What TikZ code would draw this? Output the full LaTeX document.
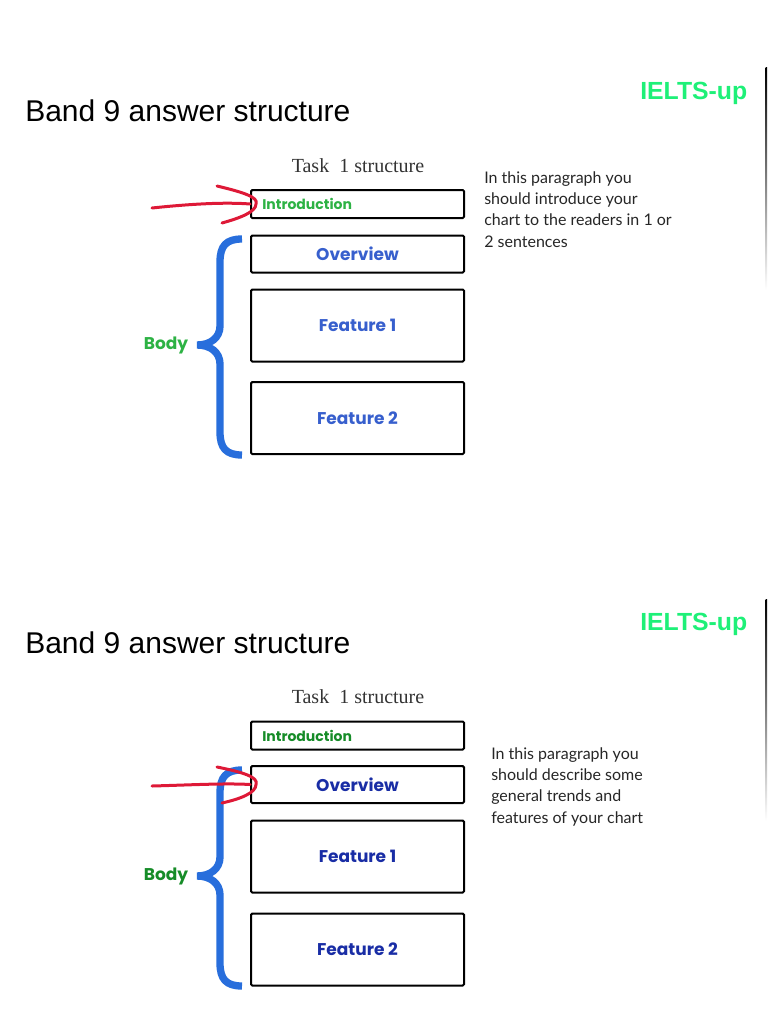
\documentclass[tikz,border=0pt]{standalone}
\usepackage{fontspec}
\setmainfont{Liberation Sans}
\newfontfamily\geofont{Poppins}
\newfontfamily\taskfont{Liberation Serif}
\newfontfamily\notefont{Lato}
\definecolor{brandgreen}{RGB}{30,240,120}
\definecolor{greenA}{RGB}{45,178,68}
\definecolor{greenB}{RGB}{22,140,40}
\definecolor{blueA}{RGB}{55,95,205}
\definecolor{blueB}{RGB}{25,45,165}
\definecolor{bracecol}{RGB}{40,110,220}
\definecolor{pencol}{RGB}{222,25,55}
\tikzset{
  box/.style={draw=black, line width=1.5pt, rounded corners=1pt, minimum width=159.75pt, inner sep=0pt},
  boxtext/.style={font={\geofont\bfseries\fontsize{12.75}{14}\selectfont}},
  introtext/.style={font={\geofont\bfseries\fontsize{10.5}{12}\selectfont}, inner sep=0pt},
  note/.style={font={\notefont\fontsize{12}{16}\selectfont}, align=left, inner sep=0pt, text=black!85},
  bracepen/.style={draw=bracecol, line width=5.5pt},
  redpen/.style={draw=pencol, line width=2.25pt, line cap=round, line join=round}
}
\begin{document}
\begin{tikzpicture}[x=0.75pt, y=-0.75pt]
  \useasboundingbox (0,0) rectangle (768,1024);

  % upper slide
  \node[anchor=base west, inner sep=0pt, font=\fontsize{22.5}{27}\selectfont] (title1) at (25,122) {Band 9 answer structure};
  \node[anchor=base west, inner sep=0pt, text=brandgreen, font=\bfseries\fontsize{18.6}{22}\selectfont] (brand1) at (640,99) {IELTS-up};
  \shade[top color=black, bottom color=white] (765.5,68) rectangle (767,290);
  \node[anchor=base, inner sep=0pt, text=black!80, font=\taskfont\fontsize{15}{18}\selectfont] (task1) at (358,172) {Task\enspace 1 structure};
  \node[box, minimum height=21pt] (intro1) at (357.5,204) {};
  \node[introtext, text=greenA, anchor=west] (introlbl1) at ([xshift=9pt]intro1.west) {Introduction};
  \node[box, boxtext, text=blueA, minimum height=27.75pt] (over1) at (357.5,254) {Overview};
  \node[box, boxtext, text=blueA, minimum height=54pt] (feata1) at (357.5,325.5) {Feature 1};
  \node[box, boxtext, text=blueA, minimum height=54pt] (featb1) at (357.5,418) {Feature 2};
  \node[boxtext, text=greenA, inner sep=0pt] (body1) at (166,345) {Body};
  \coordinate (tip1) at (197,345);
  \draw[bracepen] (242,239) .. controls (226,239) and (220,246) .. (220,262) -- (220,326)
    .. controls (220,338) and (210,345) .. (tip1)
    .. controls (210,345) and (220,352) .. (220,364) -- (220,432)
    .. controls (220,448) and (226,455) .. (242,455);
  \draw[redpen] (152,208) .. controls (190,204) and (225,202) .. (intro1.west);
  \draw[redpen] (217,186) .. controls (242,192) and (259,197) .. ([xshift=4.5pt]intro1.west)
    .. controls (256,212) and (240,218) .. (222,223);
  \node[note, anchor=north west] (note1) at (484,171) {In this paragraph you\\should introduce your\\chart to the readers in 1 or\\2 sentences};

  % lower slide
  \node[anchor=base west, inner sep=0pt, font=\fontsize{22.5}{27}\selectfont] (title2) at (25,653) {Band 9 answer structure};
  \node[anchor=base west, inner sep=0pt, text=brandgreen, font=\bfseries\fontsize{18.6}{22}\selectfont] (brand2) at (640,630) {IELTS-up};
  \shade[top color=black, bottom color=white] (765.5,599) rectangle (767,821);
  \node[anchor=base, inner sep=0pt, text=black!80, font=\taskfont\fontsize{15}{18}\selectfont] (task2) at (358,703) {Task\enspace 1 structure};
  \node[box, minimum height=21pt] (intro2) at (357.5,735.5) {};
  \node[introtext, text=greenB, anchor=west] (introlbl2) at ([xshift=9pt]intro2.west) {Introduction};
  \node[box, boxtext, text=blueB, minimum height=27.75pt] (over2) at (357.5,784.5) {Overview};
  \node[box, boxtext, text=blueB, minimum height=54pt] (feata2) at (357.5,856.5) {Feature 1};
  \node[box, boxtext, text=blueB, minimum height=54pt] (featb2) at (357.5,949.5) {Feature 2};
  \node[boxtext, text=greenB, inner sep=0pt] (body2) at (166,876) {Body};
  \coordinate (tip2) at (197,876);
  \draw[bracepen] (242,770) .. controls (226,770) and (220,777) .. (220,793) -- (220,857)
    .. controls (220,869) and (210,876) .. (tip2)
    .. controls (210,876) and (220,883) .. (220,895) -- (220,963)
    .. controls (220,979) and (226,986) .. (242,986);
  \draw[redpen] (152,786) .. controls (190,785) and (225,783) .. (over2.west);
  \draw[redpen] (217,767) .. controls (242,772) and (259,777) .. ([xshift=4.5pt]over2.west)
    .. controls (256,793) and (240,799) .. (222,803);
  \node[note, anchor=north west] (note2) at (491,747) {In this paragraph you\\should describe some\\general trends and\\features of your chart};
\end{tikzpicture}
\end{document}
